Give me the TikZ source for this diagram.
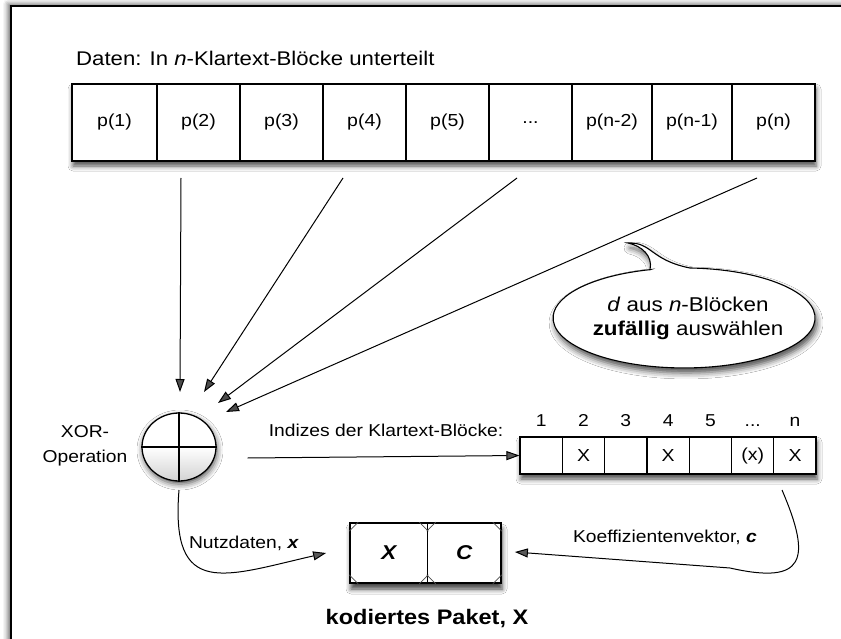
\documentclass[tikz,border=0pt]{standalone}
\usepackage{fontspec}
\setmainfont{Liberation Sans}[FakeStretch=1.12]
\usetikzlibrary{arrows.meta,shadows.blur,shapes.geometric,calc}
\begin{document}
\begin{tikzpicture}[x=1pt,y=-1pt,
  lbl/.style={font=\fontsize{17.2}{21}\selectfont, text=black, inner sep=0pt},
  pcell/.style={draw, line width=1.1pt, minimum width=#1, minimum height=77pt, inner sep=0pt, font=\fontsize{17.4}{21}\selectfont},
  icell/.style={draw, line width=1.1pt, minimum width=42.3pt, minimum height=37pt, inner sep=0pt, font=\fontsize{17.4}{21}\selectfont},
  shadowed/.style={blur shadow={shadow xshift=1pt, shadow yshift=-5pt, shadow blur radius=5pt, shadow opacity=70}},
  conn/.style={line width=1pt, -{Triangle[length=13pt,width=9pt]}},
  corner/.style={line width=0.7pt, black!70},
]
\useasboundingbox (0,0) rectangle (841,639);

% frame
\draw[line width=1.4pt, fill=white, blur shadow={shadow xshift=-3pt, shadow yshift=2pt, shadow blur radius=5pt, shadow opacity=60}] (11,6) rectangle (900,700);

% title
\node[lbl, anchor=west, font=\fontsize{19.8}{24}\selectfont] (title) at (76,58) {Daten: In \textit{n}-Klartext-Blöcke unterteilt};

% plaintext strip
\node[draw, line width=1.1pt, fill=white, minimum width=743pt, minimum height=77pt, shadowed] (strip) at (443.5,122.5) {};
\node[pcell=85pt] (p1) at (114.5,122.5) {p(1)};
\node[pcell=83pt] (p2) at (198.5,122.5) {p(2)};
\node[pcell=83pt] (p3) at (281.5,122.5) {p(3)};
\node[pcell=83pt] (p4) at (364.5,122.5) {p(4)};
\node[pcell=83pt] (p5) at (447.5,122.5) {p(5)};
\node[pcell=83pt] (pd) at (530.5,122.5) {...};
\node[pcell=80pt] (pn2) at (612,122.5) {p(n-2)};
\node[pcell=80pt] (pn1) at (692,122.5) {p(n-1)};
\node[pcell=83pt] (pn) at (773.5,122.5) {p(n)};

% XOR
\node[ellipse, draw, line width=1.3pt, minimum width=74pt, minimum height=68pt, inner sep=0pt,
      top color=white, bottom color=gray!35, middle color=white,
      blur shadow={shadow xshift=1pt, shadow yshift=-3pt, shadow blur radius=6pt, shadow opacity=70}] (xor) at (179,447) {};
\draw[line width=2pt] (xor.north) -- (xor.south);
\draw[line width=2pt] (xor.west) -- (xor.east);
\node[lbl, align=center, font=\fontsize{17.2}{25}\selectfont] (xorlbl) at (85,446) {XOR-\\Operation};

% arrows into XOR
\coordinate (s2) at (181,178);
\coordinate (s4) at (343,178);
\coordinate (s6) at (517,178);
\coordinate (sn) at (757,178);
\coordinate (t1) at (180,392);
\coordinate (t2) at (204,392);
\coordinate (t3) at (218,403);
\coordinate (t4) at (226,412);
\draw[conn] (s2) -- (t1);
\draw[conn] (s4) -- (t2);
\draw[conn] (s6) -- (t3);
\draw[conn] (sn) -- (t4);

% speech bubble
\path[fill=white, draw, line width=1.1pt,
      blur shadow={shadow xshift=2pt, shadow yshift=-5pt, shadow blur radius=6pt, shadow opacity=70}]
  (650,269.7) .. controls (653,256) and (642,246) .. (628,243)
  .. controls (652,242) and (650,260) .. (690,268)
  arc[start angle=-87.4, end angle=255, x radius=131, y radius=50] -- cycle;
\node[lbl, align=center, font=\fontsize{20}{24}\selectfont] (bubble) at (688,318) {\textit{d} aus \textit{n}-Blöcken\\\textbf{zufällig} auswählen};

% index strip
\node[lbl] (ilbl) at (386,430) {Indizes der Klartext-Blöcke:};
\node[draw, line width=1.1pt, fill=white, minimum width=296pt, minimum height=37pt, shadowed] (istrip) at (668,455.5) {};
\node[icell] (i1) at (541.2,455.5) {};
\node[icell] (i2) at (583.5,455.5) {X};
\node[icell] (i3) at (625.8,455.5) {};
\node[icell] (i4) at (668.1,455.5) {X};
\node[icell] (i5) at (710.4,455.5) {};
\node[icell] (i6) at (752.7,455.5) {(x)};
\node[icell] (i7) at (795,455.5) {X};
\foreach \n/\lab in {1/1,2/2,3/3,4/4,5/5,6/{...},7/n}
  \node[lbl, anchor=base] (h\n) at ($(i\n.center)+(0,-29)$) {\lab};

\draw[conn] ($(xor.east)+(31,11)$) coordinate (hstart) -- (istrip.west);

% packet
\node[draw, line width=1.8pt, fill=white, minimum width=151pt, minimum height=60pt,
      blur shadow={shadow xshift=1pt, shadow yshift=-6pt, shadow blur radius=5pt, shadow opacity=75}] (pkt) at (425.5,553) {};
\node[draw, line width=1.6pt, minimum width=77.5pt, minimum height=60pt, inner sep=0pt, font=\fontsize{20}{24}\selectfont\bfseries\itshape] (px) at (388.75,553) {X};
\node[draw, line width=1.6pt, minimum width=73.5pt, minimum height=60pt, inner sep=0pt, font=\fontsize{20}{24}\selectfont\bfseries\itshape] (pc) at (464.25,553) {C};
\foreach \c in {px,pc}{
  \draw[corner] ($(\c.north west)+(0,9)$) -- ($(\c.north west)+(9,0)$);
  \draw[corner] ($(\c.north east)+(0,9)$) -- ($(\c.north east)+(-9,0)$);
  \draw[corner] ($(\c.south west)+(0,-9)$) -- ($(\c.south west)+(9,0)$);
  \draw[corner] ($(\c.south east)+(0,-9)$) -- ($(\c.south east)+(-9,0)$);
}
\node[lbl, font=\fontsize{21}{25}\selectfont\bfseries] (pktlbl) at (427,619) {kodiertes Paket, X};

% bottom connectors
\coordinate (xbot) at (179,490);
\coordinate (ibot) at (782,490);
\draw[conn] (xbot) .. controls (170,600) and (225,576) .. ($(pkt.west)+(-23,0)$);
\draw[conn] (ibot) .. controls (812,560) and (805,585) .. (730,568) -- ($(pkt.east)+(13,-1)$);
\node[lbl] (nutz) at (244,543) {Nutzdaten, \textbf{\textit{x}}};
\node[lbl] (koef) at (665,537) {Koeffizientenvektor, \textbf{\textit{c}}};
\end{tikzpicture}
\end{document}
